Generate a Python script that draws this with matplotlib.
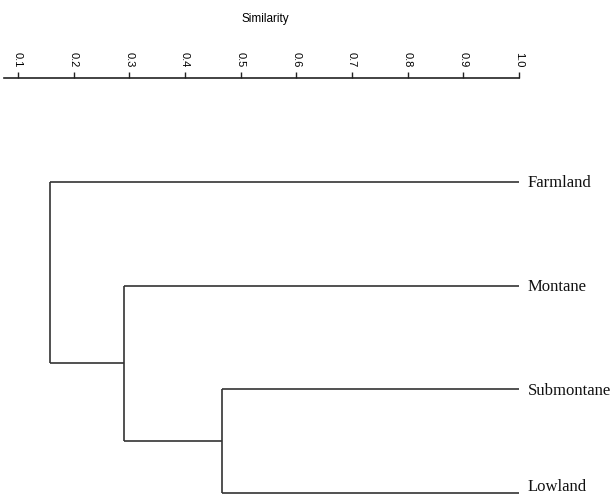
import matplotlib
matplotlib.use("Agg")
import matplotlib.pyplot as plt

# Data
leaves = ["Farmland", "Montane", "Submontane", "Lowland"]
# merges: (child_a, child_b, similarity); children are leaf names or merge indices (int)
merges = [
    ("Submontane", "Lowland", 0.466),
    ("Montane", 0, 0.290),
    ("Farmland", 1, 0.157),
]
tick_values = [0.1, 0.2, 0.3, 0.4, 0.5, 0.6, 0.7, 0.8, 0.9, 1.0]
tick_labels = ["0.1", "0.2", "0.3", "0.4", "0.5", "0.6", "0.7", "0.8", "0.9", "1.0"]
axis_title = "Similarity"
leaf_sim = 1.0

W, H = 614, 497
fig = plt.figure(figsize=(W / 100, H / 100), dpi=100)
ax = fig.add_axes([4 / W, 0, (519 - 4) / W, 1 - 78 / H])

line_kw = dict(color="#333333", lw=1.2, solid_capstyle="butt")

pos = {}
for i, name in enumerate(leaves):
    pos[name] = (leaf_sim, i)

def get(c):
    return pos[c]

for k, (a, b, s) in enumerate(merges):
    xa, ya = get(a)
    xb, yb = get(b)
    ax.plot([xa, s], [ya, ya], **line_kw)
    ax.plot([xb, s], [yb, yb], **line_kw)
    ax.plot([s, s], [ya, yb], **line_kw)
    pos[k] = (s, (ya + yb) / 2)

for i, name in enumerate(leaves):
    # baseline placed below the line so cap letters sit centred on it;
    # the last label is nudged up a little to stay inside the picture
    dy = -5.5 if i < len(leaves) - 1 else 2.0
    ax.annotate(name, xy=(leaf_sim, i), xytext=(9, dy), textcoords="offset pixels",
                ha="left", va="baseline", fontsize=12, family="Liberation Serif",
                color="#111111")

px = 0.1 / 55.7
ax.set_xlim(0.1 - 14 * px, 1.0)
ax.set_ylim(3 + 4 / 103.7, -104 / 103.7)

for sp in ["left", "right", "bottom"]:
    ax.spines[sp].set_visible(False)
ax.spines["top"].set_linewidth(1.2)
ax.spines["top"].set_color("#222222")
ax.set_yticks([])
ax.xaxis.tick_top()
ax.set_xticks(tick_values)
ax.set_xticklabels(tick_labels, rotation=-90, fontsize=8, family="Liberation Sans")
ax.tick_params(axis="x", direction="out", length=4.5, width=1.0, pad=3, color="#222222")

fig.text(265 / W, 1 - 19 / H, axis_title, ha="center", va="center",
         fontsize=8.5, family="Liberation Sans")

fig.savefig("out.png", dpi=100)
